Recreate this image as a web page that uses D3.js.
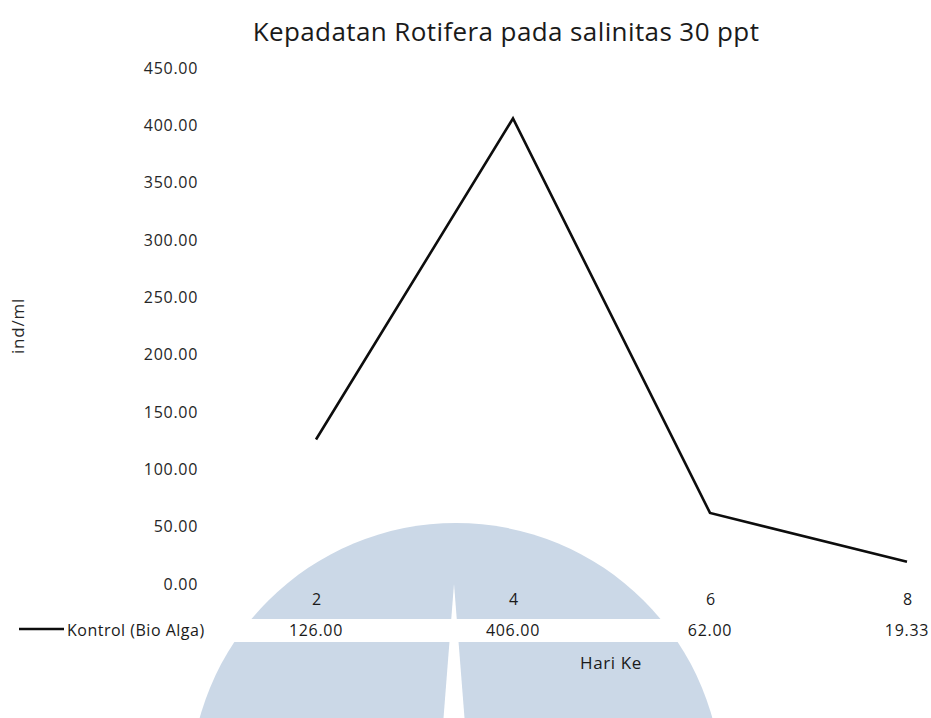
<!DOCTYPE html>
<html>
<head>
<meta charset="utf-8">
<script src="https://cdn.jsdelivr.net/npm/d3@7"></script>
<style>
  html, body { margin: 0; padding: 0; background: #ffffff; }
  svg { display: block; font-family: "Open Sans", "Noto Sans", sans-serif; }
</style>
</head>
<body>
<svg id="chart" width="931" height="718"></svg>
<script>
// Rotifer density data (day of culture vs individuals per ml)
const categories = ["2", "4", "6", "8"];
const seriesName = "Kontrol (Bio Alga)";
const values = [126.00, 406.00, 62.00, 19.33];
const yTicks = [0, 50, 100, 150, 200, 250, 300, 350, 400, 450];
const titleText = "Kepadatan Rotifera pada salinitas 30 ppt";
const yLabel = "ind/ml";
const xLabel = "Hari Ke";

const svg = d3.select("#chart");
const W = 931, H = 718;
const labelSize = 16;
const labelSpacing = 0.7;

// Scales
const x = d3.scalePoint().domain(categories).range([316, 907]);
const y = d3.scaleLinear().domain([0, 450]).range([584, 68]);

// Background logo mark: pale blue disc split by a white band and a thin wedge
const logo = svg.append("g").attr("class", "logo");
logo.append("circle")
  .attr("cx", 456).attr("cy", 789).attr("r", 266)
  .attr("fill", "#cbd8e7");
logo.append("rect")
  .attr("x", 0).attr("y", 619).attr("width", W).attr("height", 23)
  .attr("fill", "#ffffff");
logo.append("path")
  .attr("d", "M454,584 L443.5,718 L464.5,718 Z")
  .attr("fill", "#ffffff");

// Title
svg.append("text")
  .attr("x", 506).attr("y", 41)
  .attr("text-anchor", "middle")
  .attr("font-size", 26)
  .attr("letter-spacing", 0.4)
  .attr("fill", "#1a1a1a")
  .text(titleText);

// Y axis (labels only, no domain line or ticks)
const yAxis = d3.axisLeft(y)
  .tickValues(yTicks)
  .tickFormat(d3.format(".2f"))
  .tickSize(0)
  .tickPadding(0);
const gy = svg.append("g").attr("transform", "translate(198,0)").call(yAxis);
gy.select(".domain").remove();
gy.selectAll("text")
  .attr("font-family", "\"Open Sans\", sans-serif")
  .attr("font-size", labelSize)
  .attr("letter-spacing", labelSpacing)
  .attr("fill", "#262626");

// Y axis title
svg.append("text")
  .attr("transform", "translate(24,326) rotate(-90)")
  .attr("text-anchor", "middle")
  .attr("font-size", 17)
  .attr("letter-spacing", 0.8)
  .attr("fill", "#262626")
  .text(yLabel);

// Line series
const line = d3.line()
  .x((d, i) => x(categories[i]))
  .y(d => y(d));
svg.append("path")
  .datum(values)
  .attr("fill", "none")
  .attr("stroke", "#0d0d0d")
  .attr("stroke-width", 2.6)
  .attr("stroke-linejoin", "miter")
  .attr("d", line);

// Data table: category row
const xAxis = d3.axisBottom(x).tickSize(0).tickPadding(0);
const gx = svg.append("g").attr("transform", "translate(0,594)").call(xAxis);
gx.select(".domain").remove();
gx.selectAll("text")
  .attr("font-family", "\"Open Sans\", sans-serif")
  .attr("font-size", labelSize)
  .attr("fill", "#1a1a1a");

// Data table: value row
svg.append("g").selectAll("text")
  .data(values)
  .join("text")
  .attr("x", (d, i) => x(categories[i]))
  .attr("y", 636)
  .attr("text-anchor", "middle")
  .attr("font-size", labelSize)
  .attr("letter-spacing", labelSpacing)
  .attr("fill", "#1a1a1a")
  .text(d => d3.format(".2f")(d));

// Legend key inside the data table
svg.append("line")
  .attr("x1", 19).attr("x2", 64)
  .attr("y1", 629).attr("y2", 629)
  .attr("stroke", "#0d0d0d").attr("stroke-width", 2.6);
svg.append("text")
  .attr("x", 67).attr("y", 636)
  .attr("font-size", labelSize)
  .attr("letter-spacing", 0.5)
  .attr("fill", "#1a1a1a")
  .text(seriesName);

// X axis title
svg.append("text")
  .attr("x", 611).attr("y", 669)
  .attr("text-anchor", "middle")
  .attr("font-size", 17)
  .attr("letter-spacing", 0.6)
  .attr("fill", "#1a1a1a")
  .text(xLabel);
</script>
</body>
</html>
